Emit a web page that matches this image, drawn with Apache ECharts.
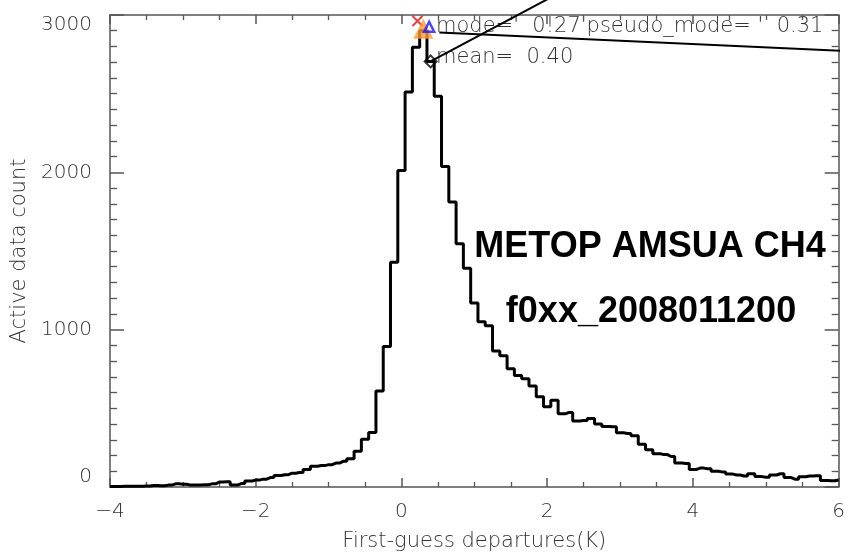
<!DOCTYPE html>
<html><head><meta charset="utf-8">
<script src="https://cdn.jsdelivr.net/npm/echarts@6/dist/echarts.min.js"></script>
<style>html,body{margin:0;padding:0;background:#fff}#c{width:848px;height:557px}</style>
</head><body><div id="c"></div>
<script>
// Bin centres (K) of the first-guess departure histogram
const binCenters = [
 -4.0,-3.9,-3.8,-3.7,-3.6,-3.5,-3.4,-3.3,-3.2,-3.1,
 -3.0,-2.9,-2.8,-2.7,-2.6,-2.5,-2.4,-2.3,-2.2,-2.1,
 -2.0,-1.9,-1.8,-1.7,-1.6,-1.5,-1.4,-1.3,-1.2,-1.1,
 -1.0,-0.9,-0.8,-0.7,-0.6,-0.5,-0.4,-0.3,-0.2,-0.1,
  0.0, 0.1, 0.2, 0.3, 0.4, 0.5, 0.6, 0.7, 0.8, 0.9,
  1.0, 1.1, 1.2, 1.3, 1.4, 1.5, 1.6, 1.7, 1.8, 1.9,
  2.0, 2.1, 2.2, 2.3, 2.4, 2.5, 2.6, 2.7, 2.8, 2.9,
  3.0, 3.1, 3.2, 3.3, 3.4, 3.5, 3.6, 3.7, 3.8, 3.9,
  4.0, 4.1, 4.2, 4.3, 4.4, 4.5, 4.6, 4.7, 4.8, 4.9,
  5.0, 5.1, 5.2, 5.3, 5.4, 5.5, 5.6, 5.7, 5.8, 5.9,
  6.0
];
// Active data count per bin
const counts = [
   3,   3,   4,   5,   5,   6,   9,   8,  12,  20,
  17,  13,  13,  14,  20,  32,  33,  12,  22,  38,
  44,  50,  60,  73,  78,  88,  92, 112, 132, 136,
 142, 152, 163, 180, 228, 303, 347, 610, 893,1428,
2012,2510,2795,2900,2705,2483,2037,1811,1546,1390,
1169,1050,1025, 865, 834, 752, 709, 688, 642, 573,
 510, 552, 465, 474, 420, 423, 436, 400, 385, 383,
 345, 340, 326, 272, 236, 212, 206, 194, 152, 150,
 112, 120, 116, 100,  96,  82,  76,  70,  85,  66,
  62,  76,  84,  60,  50,  65,  70,  72,  42,  40,
  45
];
const xTicks = [-4, -2, 0, 2, 4, 6];
const yTicks = [0, 1000, 2000, 3000];
// statistics markers
const modeMark = [0.22, 2962];
const peakMark = [0.30, 2912];
const pseudoMark = [0.38, 2925];
const meanMark = [0.40, 2705];
const pointerA = [[0.40, 2705], [2.4, 3198]];
const pointerB = [[0.52, 2888], [6.3, 2767]];
const modeText = "mode='  0!27'pseudo_mode= '  0.31";
const meanText = 'mean=  0.40';
const titleLine1 = 'METOP AMSUA CH4';
const titleLine2 = 'f0xx_2008011200';

const histData = binCenters.map((x, i) => [x, counts[i]]);
const font = 'DejaVu Sans';
const fw = 200;
const axisCol = '#555';
const txtCol = '#333';
const fmtMinus = v => String(v).replace('-', '\u2212');

function xAx(pos, labels) {
  return {
    type: 'value', min: xTicks[0], max: xTicks[xTicks.length-1], interval: 2, position: pos,
    axisLine: {show: true, onZero: false, lineStyle: {color: axisCol, width: 1.5}},
    axisTick: {show: true, inside: true, length: 9, lineStyle: {color: axisCol, width: 1.5}},
    minorTick: {show: true, splitNumber: 4, length: 5, lineStyle: {color: axisCol, width: 1.3}},
    splitLine: {show: false}, minorSplitLine: {show: false},
    axisLabel: {show: labels, formatter: fmtMinus, fontSize: 20, fontWeight: fw, color: txtCol, fontFamily: font, margin: 15},
    name: labels ? 'First-guess departures(K)' : '', nameLocation: 'middle', nameGap: 44,
    nameTextStyle: {fontSize: 21, fontWeight: fw, color: txtCol, fontFamily: font}
  };
}
function yAx(pos, labels) {
  return {
    type: 'value', min: yTicks[0], max: yTicks[yTicks.length-1], interval: 1000, position: pos,
    axisLine: {show: true, onZero: false, lineStyle: {color: axisCol, width: 1.5}},
    axisTick: {show: true, inside: true, length: 14, lineStyle: {color: axisCol, width: 1.5}},
    minorTick: {show: true, splitNumber: 10, length: 7, lineStyle: {color: axisCol, width: 1.3}},
    splitLine: {show: false}, minorSplitLine: {show: false},
    axisLabel: {show: labels, formatter: v => String(v), fontSize: 20, fontWeight: fw, color: txtCol, fontFamily: font, margin: 18,
      verticalAlignMinLabel: 'bottom', verticalAlignMaxLabel: 'top'},
    name: labels ? 'Active data count' : '', nameLocation: 'middle', nameGap: 76, nameRotate: 90,
    nameTextStyle: {fontSize: 21, fontWeight: fw, color: txtCol, fontFamily: font}
  };
}

const chart = echarts.init(document.getElementById('c'), null, {renderer: 'canvas'});
chart.setOption({
  animation: false,
  backgroundColor: '#fff',
  grid: {left: 110, right: 5, top: 15, bottom: 66, containLabel: false},
  xAxis: [xAx('bottom', true), xAx('top', false)],
  yAxis: [yAx('left', true), yAx('right', false)],
  graphic: [
    {type: 'text', left: 436, top: 16, style: {text: modeText, fontSize: 21, fontWeight: fw, fontFamily: font, fill: txtCol}},
    {type: 'text', left: 436, top: 47, style: {text: meanText, fontSize: 21, fontWeight: fw, fontFamily: font, fill: txtCol}},
    {type: 'text', x: 650, y: 247, style: {text: titleLine1, fontSize: 36, fontWeight: 'bold', fontFamily: 'Liberation Sans', fill: '#000', align: 'center', verticalAlign: 'middle'}},
    {type: 'text', x: 651, y: 312, style: {text: titleLine2, fontSize: 36, fontWeight: 'bold', fontFamily: 'Liberation Sans', fill: '#000', align: 'center', verticalAlign: 'middle'}}
  ],
  series: [
    {type: 'line', step: 'middle', data: histData, symbol: 'none', lineStyle: {color: '#000', width: 3}, z: 2},
    {type: 'line', data: pointerA, symbol: 'none', clip: false, lineStyle: {color: '#000', width: 2}, z: 3},
    {type: 'line', data: pointerB, symbol: 'none', clip: false, lineStyle: {color: '#000', width: 2}, z: 3},
    {type: 'scatter', data: [modeMark], clip: false, symbol: 'path://M0,0L10,10M10,0L0,10', symbolSize: 10,
      itemStyle: {color: 'rgba(0,0,0,0)', borderColor: '#e01010', borderWidth: 2}, z: 4},
    {type: 'scatter', data: [peakMark], clip: false, symbol: 'triangle', symbolSize: 20,
      itemStyle: {color: '#ff9a33'}, z: 5},
    {type: 'scatter', data: [pseudoMark], clip: false, symbol: 'triangle', symbolSize: 10,
      itemStyle: {color: 'rgba(0,0,0,0)', borderColor: '#1a1aff', borderWidth: 2.5}, z: 6},
    {type: 'scatter', data: [meanMark], clip: false, symbol: 'diamond', symbolSize: 12,
      itemStyle: {color: 'rgba(0,0,0,0)', borderColor: '#000', borderWidth: 2}, z: 6}
  ]
});
</script></body></html>
